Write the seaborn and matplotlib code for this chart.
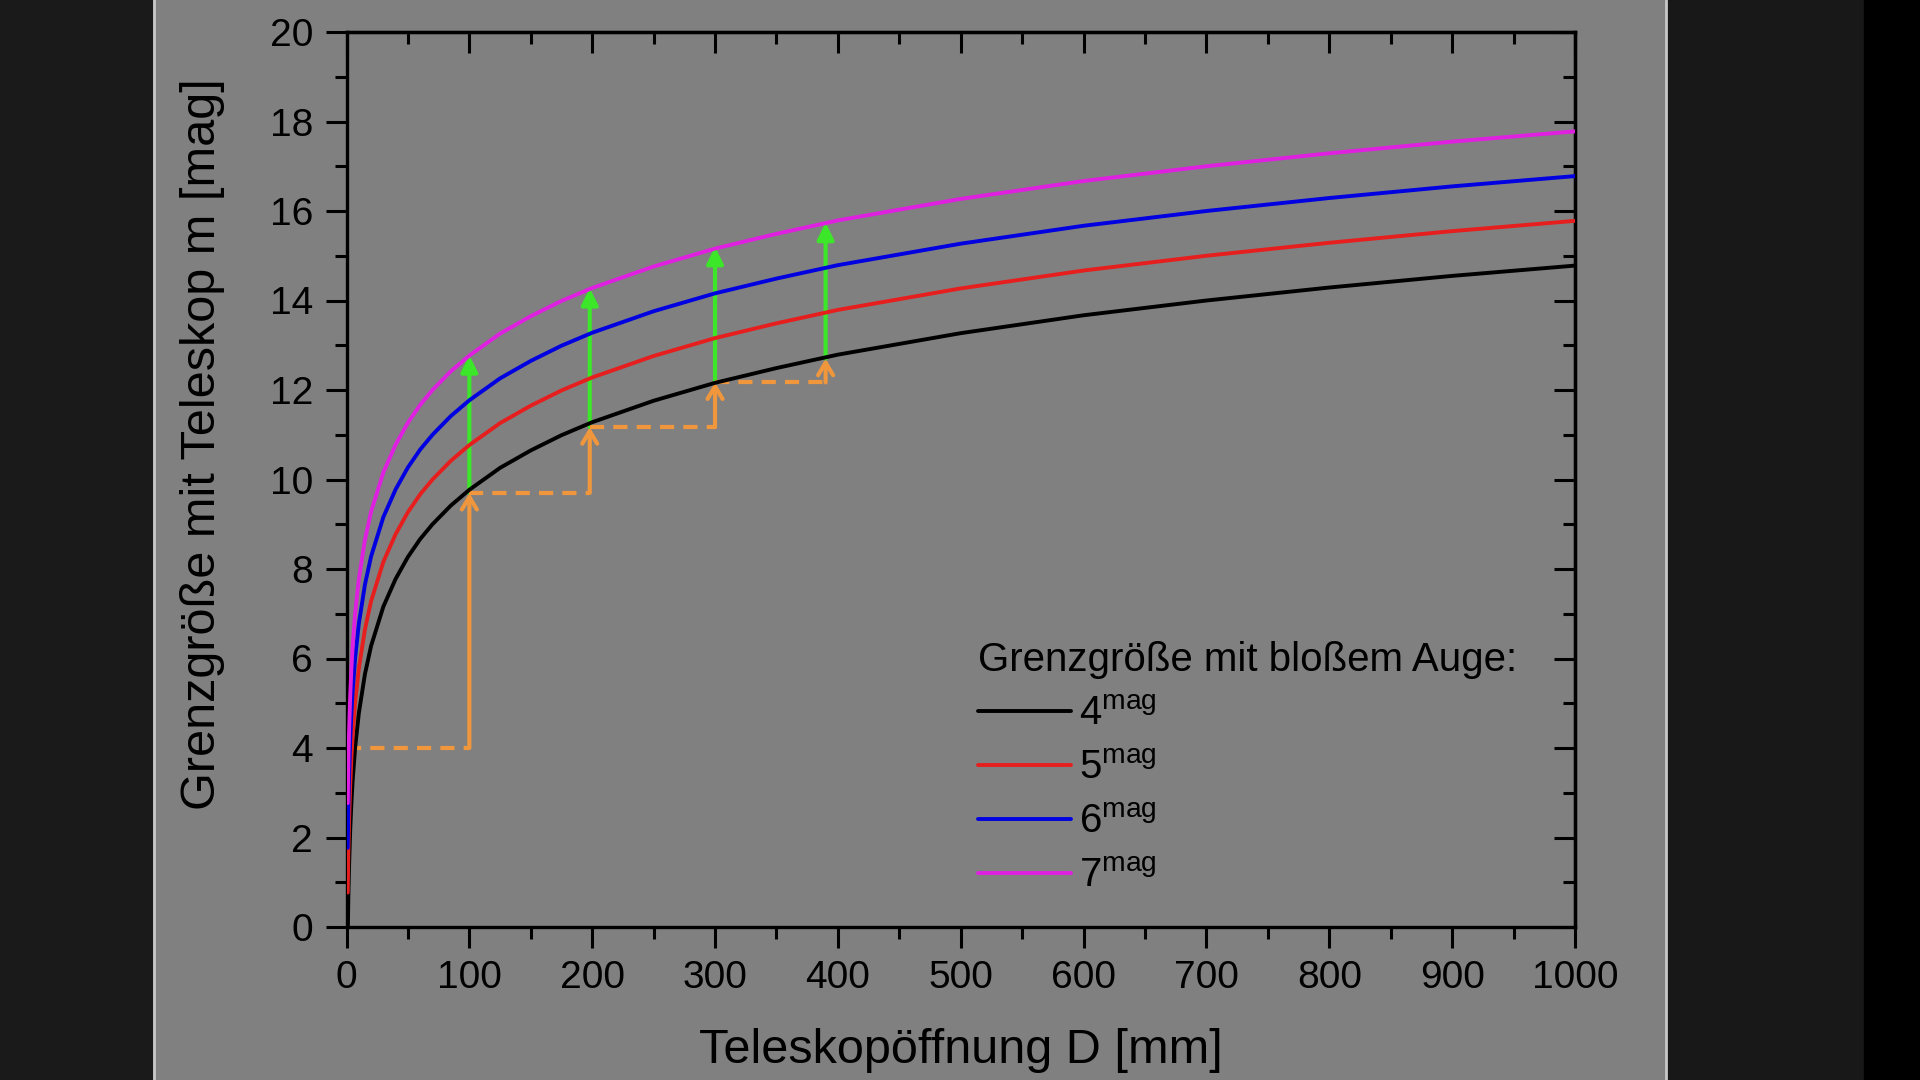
import matplotlib
matplotlib.use("Agg")
import matplotlib.pyplot as plt
from matplotlib.patches import Rectangle
from matplotlib.lines import Line2D
from matplotlib.ticker import MultipleLocator
import pandas as pd
import seaborn as sns

# values
D = [1, 1.5, 2, 3, 4, 5, 7, 10, 15, 20, 30, 40, 50, 60, 70, 85, 100, 125, 150,
     175, 200, 250, 300, 350, 400, 500, 600, 700, 800, 900, 1000]
m_4 = [-0.23, 0.66, 1.28, 2.16, 2.78, 3.27, 4.00, 4.77, 5.65, 6.28, 7.16, 7.78, 8.27, 8.67,
       9.00, 9.42, 9.77, 10.26, 10.65, 10.99, 11.28, 11.76, 12.16, 12.49, 12.79, 13.27,
       13.67, 14.00, 14.29, 14.55, 14.78]
m_5 = [0.77, 1.66, 2.28, 3.16, 3.78, 4.27, 5.00, 5.77, 6.65, 7.28, 8.16, 8.78, 9.27, 9.67,
       10.00, 10.42, 10.77, 11.26, 11.65, 11.99, 12.28, 12.76, 13.16, 13.49, 13.79, 14.27,
       14.67, 15.00, 15.29, 15.55, 15.78]
m_6 = [1.77, 2.66, 3.28, 4.16, 4.78, 5.27, 6.00, 6.77, 7.65, 8.28, 9.16, 9.78, 10.27, 10.67,
       11.00, 11.42, 11.77, 12.26, 12.65, 12.99, 13.28, 13.76, 14.16, 14.49, 14.79, 15.27,
       15.67, 16.00, 16.29, 16.55, 16.78]
m_7 = [2.77, 3.66, 4.28, 5.16, 5.78, 6.27, 7.00, 7.77, 8.65, 9.28, 10.16, 10.78, 11.27, 11.67,
       12.00, 12.42, 12.77, 13.26, 13.65, 13.99, 14.28, 14.76, 15.16, 15.49, 15.79, 16.27,
       16.67, 17.00, 17.29, 17.55, 17.78]
eye_mag = ["4", "5", "6", "7"]
line_colors = ["#000000", "#e61e1e", "#0000e0", "#e020e0"]

# construction: orange steps along the 4mag curve, green jumps up to the 7mag curve
step_x = [100, 198, 300, 390]
step_lo = [4.0, 9.7, 11.17, 12.17]
step_hi = [9.7, 11.17, 12.17, 12.7]
green_hi = [12.78, 14.28, 15.2, 15.74]

df = pd.DataFrame({
    "D": D * 4,
    "m": m_4 + m_5 + m_6 + m_7,
    "eye": sum([[e] * len(D) for e in eye_mag], []),
})

sns.set_theme(style="ticks")
plt.rcParams["font.family"] = ["Liberation Sans", "DejaVu Sans"]
plt.rcParams["mathtext.fontset"] = "custom"
plt.rcParams["mathtext.rm"] = "Liberation Sans"
plt.rcParams["mathtext.it"] = "Liberation Sans:italic"
plt.rcParams["text.color"] = "black"

gray = "#808080"
fig = plt.figure(figsize=(19.2, 10.8), dpi=100, facecolor=gray)
# dark surroundings of the slide
fig.patches.append(Rectangle((0, 0), 152 / 1920, 1, transform=fig.transFigure, color="#1a1a1a", zorder=-5))
fig.patches.append(Rectangle((1667 / 1920, 0), 197 / 1920, 1, transform=fig.transFigure, color="#181818", zorder=-5))
fig.patches.append(Rectangle((1864 / 1920, 0), 56 / 1920, 1, transform=fig.transFigure, color="#000000", zorder=-5))
fig.lines.append(Line2D([153.5 / 1920] * 2, [0, 1], transform=fig.transFigure, color="#c8c8c8", lw=2))
fig.lines.append(Line2D([1665.5 / 1920] * 2, [0, 1], transform=fig.transFigure, color="#c8c8c8", lw=2))

ax = fig.add_axes([346.5 / 1920, 1 - 927 / 1080, (1575 - 346.5) / 1920, (927 - 32) / 1080])
ax.set_facecolor(gray)

sns.lineplot(data=df, x="D", y="m", hue="eye", palette=line_colors, linewidth=2.8,
             estimator=None, sort=False, ax=ax, zorder=3)

orange = "#f0963c"
green = "#3ce628"
prev = 0
for x, lo, hi, top in zip(step_x, step_lo, step_hi, green_hi):
    ax.plot([prev, x], [lo, lo], color=orange, lw=3.0, dashes=(3.4, 2.2), zorder=2)
    ax.annotate("", xy=(x, top), xytext=(x, hi),
                arrowprops=dict(arrowstyle="-|>,head_length=0.5,head_width=0.25", color=green,
                                lw=3.0, shrinkA=0, shrinkB=0, mutation_scale=20), zorder=2)
    ax.annotate("", xy=(x, hi), xytext=(x, lo),
                arrowprops=dict(arrowstyle="->,head_length=0.45,head_width=0.27", color=orange,
                                lw=3.0, shrinkA=0, shrinkB=0, mutation_scale=20), zorder=2)
    prev = x

ax.set_xlim(0, 1000)
ax.set_ylim(0, 20)
ax.xaxis.set_major_locator(MultipleLocator(100))
ax.xaxis.set_minor_locator(MultipleLocator(50))
ax.yaxis.set_major_locator(MultipleLocator(2))
ax.yaxis.set_minor_locator(MultipleLocator(1))
for s in ax.spines.values():
    s.set_visible(True)
    s.set_linewidth(2.4)
    s.set_color("black")
ax.tick_params(which="both", direction="out", width=2.2, colors="black", labelsize=28)
ax.tick_params(which="major", length=15)
ax.tick_params(which="minor", length=8.5)
ax.tick_params(axis="x", pad=9)
ax.tick_params(axis="y", pad=9)

# inward ticks on top and right
top = ax.secondary_xaxis("top")
top.xaxis.set_major_locator(MultipleLocator(100))
top.xaxis.set_minor_locator(MultipleLocator(50))
right = ax.secondary_yaxis("right")
right.yaxis.set_major_locator(MultipleLocator(2))
right.yaxis.set_minor_locator(MultipleLocator(1))
for sec in (top, right):
    sec.tick_params(which="both", direction="in", width=2.2, colors="black",
                    labeltop=False, labelright=False)
    sec.tick_params(which="major", length=15)
    sec.tick_params(which="minor", length=8.5)
    for s in sec.spines.values():
        s.set_linewidth(2.4)

ax.set_xlabel("Teleskopöffnung D [mm]", fontsize=35, color="black", labelpad=23)
ax.set_ylabel("Grenzgröße mit Teleskop m [mag]", fontsize=35, color="black")
ax.yaxis.set_label_coords(-0.099, 0.54)

handles, _ = ax.get_legend_handles_labels()
leg = ax.legend(handles, [r"$\mathrm{%s}^{\mathrm{mag}}$" % e for e in eye_mag],
                title="Grenzgröße mit bloßem Auge:", title_fontsize=29, fontsize=29,
                loc="upper left", bbox_to_anchor=(0.514, 0.32), frameon=False,
                borderpad=0, borderaxespad=0, handlelength=2.3, handletextpad=0.2,
                labelspacing=0.4, alignment="left")
for h in leg.get_lines():
    h.set_linewidth(2.8)
for t in leg.get_texts():
    t.set_color("black")
leg.get_title().set_color("black")

fig.savefig("out.png", dpi=100, facecolor=gray)
